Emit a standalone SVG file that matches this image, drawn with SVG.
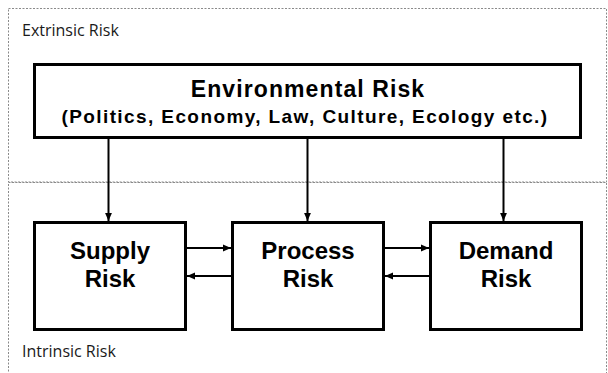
<svg xmlns="http://www.w3.org/2000/svg" width="608" height="373" viewBox="0 0 608 373">
  <style>
    .zone { fill: none; stroke: #8a8a8a; stroke-width: 1; stroke-dasharray: 2 1.5; }
    .zone-label { font-family: "Open Sans", "Noto Sans", sans-serif; font-size: 16px; fill: #1a1a1a; }
    .box { fill: #ffffff; stroke: #000000; stroke-width: 3; }
    .title { font-family: "Liberation Sans", Arial, sans-serif; font-weight: bold; fill: #000000; text-anchor: middle; }
    .link { stroke: #000000; stroke-width: 2; fill: none; marker-end: url(#head); }
  </style>
  <defs>
    <marker id="head" viewBox="0 0 8 8" refX="8" refY="4" markerWidth="8" markerHeight="8" markerUnits="userSpaceOnUse" orient="auto">
      <path d="M0,0.6 L8,4 L0,7.4 Z" fill="#000000"/>
    </marker>
  </defs>

  <rect width="608" height="373" fill="#ffffff"/>

  <!-- zones -->
  <g id="zones">
    <rect class="zone" x="8.5" y="8.5" width="598" height="173.5"/>
    <rect class="zone" x="8.5" y="182.5" width="598" height="200" stroke="#b8b8b8"/>
    <text class="zone-label" x="22" y="36">Extrinsic Risk</text>
    <text class="zone-label" x="22" y="357">Intrinsic Risk</text>
  </g>

  <!-- environmental risk -->
  <g id="environmental">
    <rect class="box" x="34.5" y="64.5" width="546" height="73"/>
    <text class="title" x="308" y="97" font-size="23" letter-spacing="1.1">Environmental Risk</text>
    <text class="title" x="305" y="123" font-size="19" letter-spacing="1.4">(Politics, Economy, Law, Culture, Ecology etc.)</text>
  </g>

  <!-- supply risk -->
  <g id="supply">
    <rect class="box" x="34.5" y="222.5" width="151" height="107"/>
    <text class="title" x="110" y="259" font-size="24">Supply</text>
    <text class="title" x="110" y="287" font-size="24">Risk</text>
  </g>

  <!-- process risk -->
  <g id="process">
    <rect class="box" x="232.5" y="222.5" width="151" height="107"/>
    <text class="title" x="308" y="259" font-size="24">Process</text>
    <text class="title" x="308" y="287" font-size="24">Risk</text>
  </g>

  <!-- demand risk -->
  <g id="demand">
    <rect class="box" x="430.5" y="222.5" width="151" height="107"/>
    <text class="title" x="506" y="259" font-size="24">Demand</text>
    <text class="title" x="506" y="287" font-size="24">Risk</text>
  </g>

  <!-- connectors -->
  <g id="connectors">
    <line class="link" x1="108.5" y1="139" x2="108.5" y2="221"/>
    <line class="link" x1="307.5" y1="139" x2="307.5" y2="221"/>
    <line class="link" x1="503.5" y1="139" x2="503.5" y2="221"/>
    <line class="link" x1="187" y1="248" x2="231" y2="248"/>
    <line class="link" x1="231" y1="276" x2="187" y2="276"/>
    <line class="link" x1="385" y1="248" x2="429" y2="248"/>
    <line class="link" x1="429" y1="276" x2="385" y2="276"/>
  </g>
</svg>
